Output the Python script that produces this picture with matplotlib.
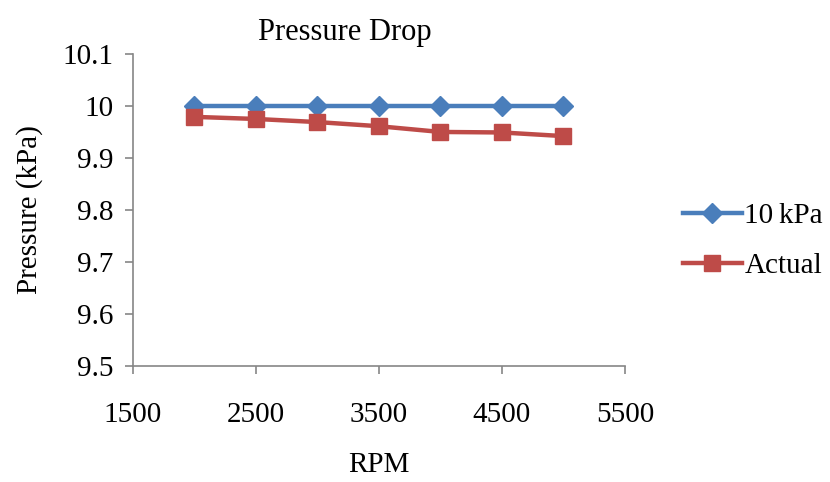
import matplotlib
matplotlib.use("Agg")
import matplotlib.pyplot as plt

rpm = [2000, 2500, 3000, 3500, 4000, 4500, 5000]
target = [10, 10, 10, 10, 10, 10, 10]
actual = [9.979, 9.975, 9.969, 9.961, 9.950, 9.949, 9.942]

plt.rcParams["font.family"] = ["Liberation Serif", "DejaVu Serif"]
FS = 21

fig = plt.figure(figsize=(8.3, 4.82), dpi=100)
ax = fig.add_axes([0.160, 0.241, 0.593, 0.647])

ax.plot(rpm, target, color="#4A7EBB", lw=3.2, marker="D", ms=10, label="10\u2009kPa")
ax.plot(rpm, actual, color="#BE4B48", lw=3.2, marker="s", ms=12, label="Actual")

ax.set_xlim(1500, 5500)
ax.set_ylim(9.5, 10.1)
ax.set_xticks([1500, 2500, 3500, 4500, 5500])
ax.set_yticks([9.5, 9.6, 9.7, 9.8, 9.9, 10.0, 10.1])
ax.set_yticklabels(["9.5", "9.6", "9.7", "9.8", "9.9", "10", "10.1"])
ax.tick_params(labelsize=FS, color="#868686", length=6, width=1.2)
ax.tick_params(axis="x", pad=20)
ax.tick_params(axis="y", pad=8)

for s in ["top", "right"]:
    ax.spines[s].set_visible(False)
for s in ["left", "bottom"]:
    ax.spines[s].set_color("#868686")
    ax.spines[s].set_linewidth(1.2)

ax.set_xlabel("RPM", fontsize=FS, labelpad=17)
ax.set_ylabel("Pressure (kPa)", fontsize=FS, labelpad=14)
ax.set_title("Pressure Drop", fontsize=FS + 1, pad=10, x=0.43)

ax.legend(loc="center left", bbox_to_anchor=(1.065, 0.40), frameon=False,
          fontsize=FS, handlelength=2.0, labelspacing=0.8, handletextpad=0.1)

fig.savefig("out.png", dpi=100)
